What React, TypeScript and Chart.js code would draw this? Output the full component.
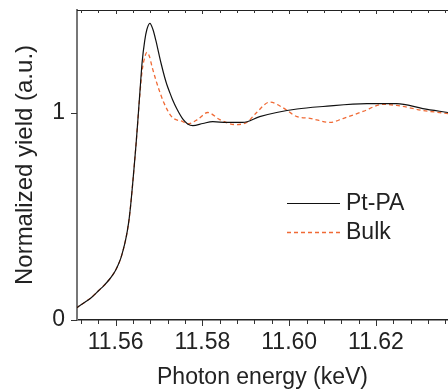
import React, { useEffect, useRef } from "react";
import { Chart, registerables } from "chart.js";

Chart.register(...registerables);

const energyPtPA = [
  11.5508, 11.5518, 11.553, 11.5545, 11.5561, 11.5573, 11.5585, 11.5593, 11.56,
  11.5606, 11.5612, 11.5617, 11.5623, 11.5627, 11.5631, 11.5635, 11.5639, 11.5643,
  11.5647, 11.5651, 11.5656, 11.5661, 11.5667, 11.5672, 11.5679, 11.5686, 11.5693,
  11.57, 11.5705, 11.5713, 11.5718, 11.5725, 11.5731, 11.5741, 11.5755, 11.5766,
  11.5778, 11.5801, 11.5824, 11.5856, 11.5893, 11.5932, 11.5971, 11.6018, 11.6078,
  11.6179, 11.6248, 11.6308, 11.6366,
];
const yieldPtPA = [
  0.056, 0.07, 0.087, 0.11, 0.142, 0.166, 0.194, 0.216, 0.24,
  0.266, 0.298, 0.334, 0.386, 0.43, 0.485, 0.56, 0.65, 0.745,
  0.845, 0.955, 1.1, 1.24, 1.345, 1.4, 1.43, 1.4, 1.345,
  1.28, 1.235, 1.17, 1.135, 1.095, 1.063, 1.018, 0.968, 0.945,
  0.937, 0.947, 0.956, 0.952, 0.952, 0.98, 1.0, 1.017, 1.029,
  1.043, 1.043, 1.019, 1.0,
];

const energyBulk = [
  11.5508, 11.5518, 11.553, 11.5545, 11.5561, 11.5573, 11.5585, 11.5593, 11.56,
  11.5606, 11.5612, 11.5617, 11.5623, 11.5627, 11.5631, 11.5635, 11.5639, 11.5643,
  11.5647, 11.5651, 11.5656, 11.5661, 11.5667, 11.5672, 11.5678, 11.5684, 11.5693,
  11.57, 11.5711, 11.5729, 11.5755, 11.5766, 11.579, 11.5812, 11.584, 11.5875,
  11.5902, 11.5925, 11.5955, 11.5985, 11.6018, 11.6048, 11.6094, 11.6124, 11.617,
  11.6216, 11.6248, 11.6308, 11.6366,
];
const yieldBulk = [
  0.056, 0.07, 0.087, 0.11, 0.142, 0.166, 0.194, 0.216, 0.24,
  0.266, 0.298, 0.334, 0.386, 0.43, 0.485, 0.56, 0.65, 0.745,
  0.845, 0.955, 1.09, 1.2, 1.265, 1.29, 1.27, 1.22, 1.155,
  1.11, 1.048, 0.98, 0.956, 0.945, 0.968, 1.0, 0.966, 0.942,
  0.952, 1.0, 1.05, 1.024, 0.98, 0.972, 0.952, 0.971, 1.005,
  1.039, 1.034, 1.01, 0.995,
];

const xTickValues = [11.56, 11.58, 11.6, 11.62];
const yTickValues = [0, 1];
const seriesLabels = ["Pt-PA", "Bulk"];

const FONT = "'Liberation Sans', Arial, sans-serif";
const TEXT = "#222";

const framePlugin = {
  id: "frame",
  afterDraw(chart: any) {
    const { ctx, chartArea } = chart;
    const xs = chart.scales.x;
    const ys = chart.scales.y;
    ctx.save();
    ctx.strokeStyle = "#222";
    ctx.lineWidth = 1;
    ctx.beginPath();
    ctx.moveTo(chartArea.left, chartArea.top + 0.5);
    ctx.lineTo(chartArea.right, chartArea.top + 0.5);
    ctx.stroke();
    const major = 0.02;
    const minorStep = major / 5;
    const start = Math.ceil(xs.min / minorStep - 1e-6);
    const end = Math.floor(xs.max / minorStep + 1e-6);
    for (let i = start; i <= end; i++) {
      const v = i * minorStep;
      const isMajor = Math.abs(v / major - Math.round(v / major)) < 1e-3;
      const px = Math.round(xs.getPixelForValue(v)) + 0.5;
      ctx.strokeStyle = "#333";
      ctx.beginPath();
      ctx.moveTo(px, chartArea.bottom);
      ctx.lineTo(px, chartArea.bottom + (isMajor ? 6 : 4));
      ctx.moveTo(px, chartArea.top);
      ctx.lineTo(px, chartArea.top + (isMajor ? 4 : 3));
      ctx.stroke();
    }
    for (const v of yTickValues) {
      const py = Math.round(ys.getPixelForValue(v)) + 0.5;
      ctx.beginPath();
      ctx.moveTo(chartArea.left - 6, py);
      ctx.lineTo(chartArea.left, py);
      ctx.stroke();
    }
    const ds = chart.data.datasets;
    const lx0 = 287;
    const lx1 = 340;
    const rows = [203, 232];
    ctx.font = `23px ${FONT}`;
    ctx.textBaseline = "middle";
    ctx.textAlign = "left";
    ds.forEach((d: any, i: number) => {
      const yy = rows[i] + 0.5;
      ctx.strokeStyle = d.borderColor;
      ctx.lineWidth = d.borderWidth;
      ctx.setLineDash(d.borderDash || []);
      ctx.beginPath();
      ctx.moveTo(lx0, yy);
      ctx.lineTo(lx1, yy);
      ctx.stroke();
      ctx.setLineDash([]);
      ctx.fillStyle = TEXT;
      ctx.fillText(d.label, 346, rows[i] + 1);
    });
    ctx.restore();
  },
};

export default function App() {
  const ref = useRef<HTMLCanvasElement>(null);
  useEffect(() => {
    document.body.style.margin = "0";
    const canvas = ref.current!;
    const chart = new Chart(canvas, {
      type: "line",
      data: {
        datasets: [
          {
            label: seriesLabels[0],
            data: energyPtPA.map((x, i) => ({ x, y: yieldPtPA[i] })),
            borderColor: "#111",
            borderWidth: 1.2,
            pointRadius: 0,
            cubicInterpolationMode: "monotone",
            fill: false,
          },
          {
            label: seriesLabels[1],
            data: energyBulk.map((x, i) => ({ x, y: yieldBulk[i] })),
            borderColor: "#f06a35",
            borderWidth: 1.3,
            borderDash: [4, 3],
            pointRadius: 0,
            cubicInterpolationMode: "monotone",
            fill: false,
          },
        ],
      },
      options: {
        animation: false,
        responsive: false,
        maintainAspectRatio: false,
        layout: { padding: { top: 10, right: 0, left: 0, bottom: 0 } },
        plugins: { legend: { display: false }, tooltip: { enabled: false } },
        scales: {
          x: {
            type: "linear",
            min: 11.5511,
            max: 11.6366,
            afterBuildTicks: (s: any) => {
              s.ticks = xTickValues.map((v) => ({ value: v }));
            },
            afterFit: (s: any) => {
              s.height = 70;
              s.paddingLeft = 0;
              s.paddingRight = 0;
            },
            ticks: {
              includeBounds: false,
              autoSkip: false,
              maxRotation: 0,
              padding: 9,
              color: TEXT,
              font: { family: FONT, size: 23 },
              callback: (v: any) => Number(v).toFixed(2),
            },
            grid: { display: false, drawTicks: false },
            border: { display: true, color: "#222", width: 1.5 },
            title: {
              display: true,
              text: "Photon energy (keV)",
              color: TEXT,
              font: { family: FONT, size: 23, lineHeight: 1 },
              padding: { top: 0, bottom: 1 },
            },
          },
          y: {
            type: "linear",
            min: 0,
            max: 1.494,
            afterBuildTicks: (s: any) => {
              s.ticks = yTickValues.map((v) => ({ value: v }));
            },
            afterFit: (s: any) => {
              s.width = 77;
              s.paddingTop = 0;
              s.paddingBottom = 0;
            },
            ticks: {
              includeBounds: false,
              padding: 12,
              color: TEXT,
              font: { family: FONT, size: 23 },
              callback: (v: any) => String(v),
            },
            grid: { display: false, drawTicks: false },
            border: { display: true, color: "#777", width: 2 },
            title: {
              display: true,
              text: "Normalized yield (a.u.)",
              color: TEXT,
              font: { family: FONT, size: 24, lineHeight: 1 },
              padding: { top: 13, bottom: 0 },
            },
          },
        },
      },
      plugins: [framePlugin],
    } as any);
    return () => chart.destroy();
  }, []);
  return <canvas ref={ref} width={448} height={390} style={{ display: "block" }} />;
}
